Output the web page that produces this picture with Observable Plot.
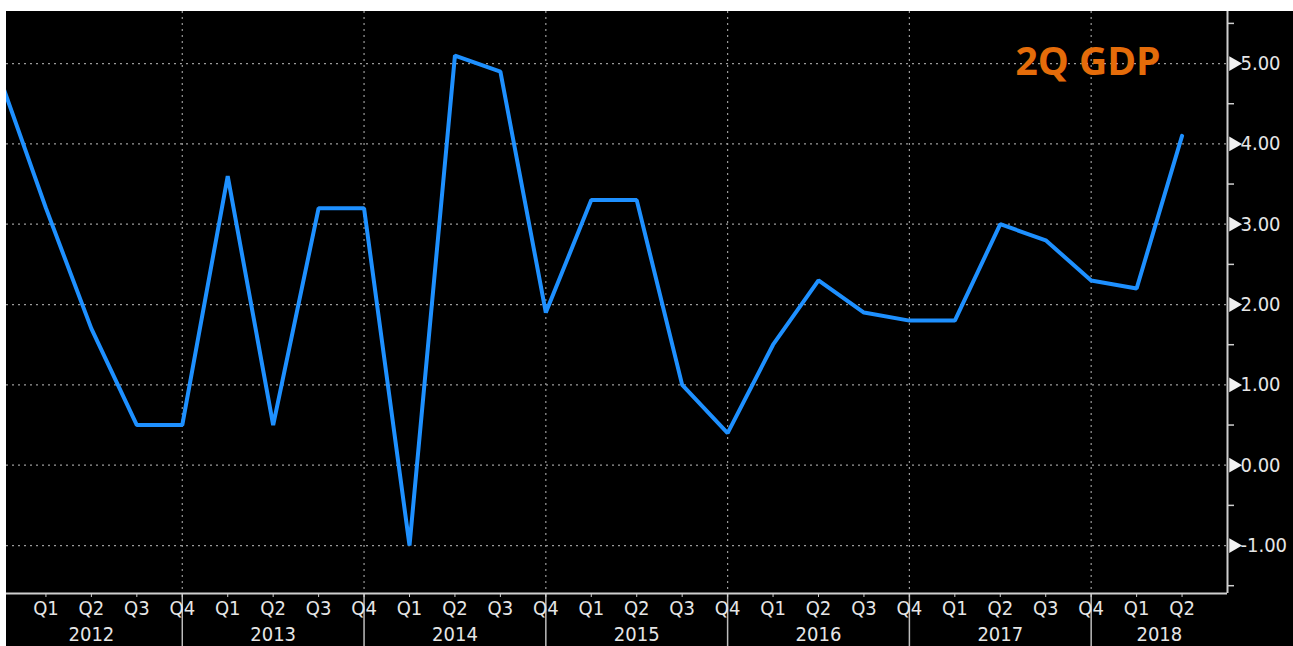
<!DOCTYPE html>
<html>
<head>
<meta charset="utf-8">
<script src="https://cdn.jsdelivr.net/npm/d3@7"></script>
<script src="https://cdn.jsdelivr.net/npm/@observablehq/plot@0.6"></script>
<style>
  html, body { margin: 0; padding: 0; background: #ffffff; }
  #wrap { position: absolute; left: 6px; top: 11px; width: 1287px; height: 635px; background: #000; overflow: hidden; }
  #wrap svg g[aria-label*="tick label"] text { font-stretch: condensed; }
</style>
</head>
<body>
<div id="wrap"></div>
<script>
// ---- data ----
const periodYears    = [2011, 2012, 2012, 2012, 2012, 2013, 2013, 2013, 2013, 2014, 2014, 2014, 2014, 2015, 2015, 2015, 2015, 2016, 2016, 2016, 2016, 2017, 2017, 2017, 2017, 2018, 2018];
const periodQuarters = ["Q4", "Q1", "Q2", "Q3", "Q4", "Q1", "Q2", "Q3", "Q4", "Q1", "Q2", "Q3", "Q4", "Q1", "Q2", "Q3", "Q4", "Q1", "Q2", "Q3", "Q4", "Q1", "Q2", "Q3", "Q4", "Q1", "Q2"];
const gdpGrowth      = [4.8, 3.2, 1.7, 0.5, 0.5, 3.6, 0.5, 3.2, 3.2, -1.0, 5.1, 4.9, 1.9, 3.3, 3.3, 1.0, 0.4, 1.5, 2.3, 1.9, 1.8, 1.8, 3.0, 2.8, 2.3, 2.2, 4.1];
const yTickValues    = [-1, 0, 1, 2, 3, 4, 5];
const yMinorTicks    = [-1.5, -0.5, 0.5, 1.5, 2.5, 3.5, 4.5, 5.5];
const yearLabels     = [2012, 2013, 2014, 2015, 2016, 2017, 2018];
const titleText      = "2Q GDP";

// index: 0 = 2012 Q1
const rows = gdpGrowth.map((v, k) => ({ i: k - 1, v, year: periodYears[k], q: periodQuarters[k] }));
const shown = rows.filter(r => r.i >= 0);
const q4Ticks = shown.filter(r => r.q === "Q4").map(r => r.i);
const xDomain = [-0.868, 26];
const yDomain = [-1.597, 5.648];
// year label centred in span between year separators / frame edges
const yearCenters = yearLabels.map(y => {
  const idx = shown.filter(r => r.year === y).map(r => r.i);
  const lo = Math.max(d3.min(idx) - 1, -1);
  const hi = y === 2018 ? xDomain[1] : d3.max(idx);
  return { c: (lo + hi) / 2, y };
});
const fmt = d => d.toFixed(2);
const FONT = "'DejaVu Sans Condensed', 'DejaVu Sans', sans-serif";

const chart = Plot.plot({
  width: 1287,
  height: 635,
  marginLeft: 0,
  marginRight: 66,
  marginTop: 0,
  marginBottom: 53,
  style: { background: "#000", color: "#e6e6e6", fontFamily: FONT, fontSize: "20px", overflow: "hidden" },
  x: { domain: xDomain, axis: null },
  y: { domain: yDomain, axis: null },
  marks: [
    Plot.ruleY(yTickValues, { stroke: "#9a9a9a", strokeDasharray: "2,4", strokeWidth: 1.2 }),
    Plot.ruleX(q4Ticks, { stroke: "#9a9a9a", strokeDasharray: "2,4", strokeWidth: 1.2 }),
    Plot.line(rows, { x: "i", y: "v", stroke: "#1e90ff", strokeWidth: 4, strokeLinejoin: "miter" }),
    Plot.axisX({ ticks: q4Ticks, tickSize: 53, tickFormat: () => "", label: null, stroke: "#bdbdbd", strokeWidth: 1.5 }),
    Plot.axisX({ ticks: shown.map(r => r.i), tickSize: 4, tickPadding: 3, stroke: "#cfcfcf", label: null,
      tickFormat: i => periodQuarters[i + 1], fontSize: 20, fill: "#e6e6e6", fontFamily: FONT }),
    Plot.axisX({ ticks: yearCenters.map(d => d.c), tickSize: 0, tickPadding: 33, label: null,
      tickFormat: c => String(yearCenters.find(d => d.c === c).y), fontSize: 20, fill: "#e6e6e6", fontFamily: FONT }),
    Plot.ruleY([yDomain[0]], { stroke: "#cfcfcf", strokeWidth: 2 }),
    Plot.ruleX([xDomain[1]], { stroke: "#cfcfcf", strokeWidth: 2 }),
    Plot.axisY({ anchor: "right", ticks: yMinorTicks, tickSize: 6, tickFormat: () => "", label: null, stroke: "#cfcfcf", strokeWidth: 1.5 }),
    Plot.dot(yTickValues, { x: () => xDomain[1], y: d => d, symbol: "triangle", rotate: 90, r: 5.5, dx: 6, fill: "#f2f2f2", stroke: null }),
    Plot.axisY({ anchor: "right", ticks: yTickValues, tickSize: 0, tickPadding: 13, label: null,
      tickFormat: fmt, fontSize: 20, fill: "#e6e6e6", fontFamily: FONT }),
    Plot.text([titleText], { frameAnchor: "top-right", text: d => d, textAnchor: "end", lineAnchor: "middle",
      dx: -67, dy: 51, fill: "#e46c0a", fontSize: 39, fontWeight: "bold", fontFamily: "'Open Sans', sans-serif" })
  ]
});
document.getElementById("wrap").appendChild(chart);
</script>
</body>
</html>
